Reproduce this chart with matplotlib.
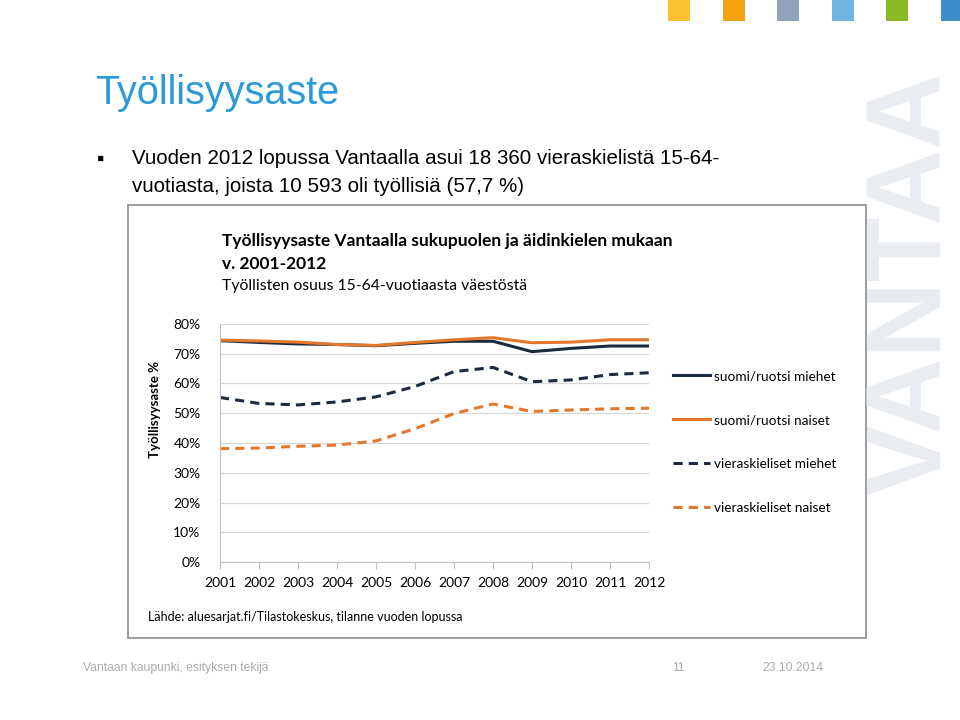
import matplotlib
matplotlib.use("Agg")
import matplotlib.pyplot as plt
from matplotlib.patches import Rectangle

plt.rcParams["font.family"] = ["Liberation Sans", "DejaVu Sans"]

years = [2001, 2002, 2003, 2004, 2005, 2006, 2007, 2008, 2009, 2010, 2011, 2012]
fi_sv_men = [74.4, 73.8, 73.3, 73.1, 72.7, 73.5, 74.2, 74.2, 70.7, 71.8, 72.6, 72.6]
fi_sv_women = [74.6, 74.3, 73.9, 73.1, 72.8, 73.8, 74.7, 75.4, 73.7, 73.9, 74.7, 74.7]
foreign_men = [55.3, 53.3, 52.8, 53.8, 55.5, 59.0, 64.0, 65.4, 60.6, 61.2, 63.0, 63.6]
foreign_women = [38.1, 38.3, 38.9, 39.3, 40.7, 44.8, 49.9, 53.1, 50.6, 51.1, 51.5, 51.7]
series_labels = ["suomi/ruotsi miehet", "suomi/ruotsi naiset",
                 "vieraskieliset miehet", "vieraskieliset naiset"]
y_ticks = [0, 10, 20, 30, 40, 50, 60, 70, 80]

W, H = 960, 720
NAVY = "#1B2A3F"
ORANGE = "#E2782B"
CHART_FONT = ["Lato", "DejaVu Sans"]


def fx(px):
    return px / W


def fy(py):
    return 1 - py / H


fig = plt.figure(figsize=(9.6, 7.2), dpi=100)
fig.patch.set_facecolor("white")

# coloured squares at the top right
squares = ["#FBC12E", "#F4A10F", "#8FA3BD", "#6EB5E3", "#8AB823", "#3D8DCB"]
for i, c in enumerate(squares):
    x0 = 668 + i * 54.5
    fig.patches.append(Rectangle((fx(x0), fy(21)), fx(22), 21 / H, transform=fig.transFigure,
                                 fc=c, ec="none"))

# VANTAA watermark
fig.text(fx(913), fy(283), "VANTAA", rotation=90, ha="center", va="center",
         fontsize=76, fontweight="bold", color="#E9EDF1", family=["Liberation Sans"])

# slide title and bullet
fig.text(fx(95), fy(93), "Työllisyysaste", fontsize=28.5, color="#2C9AD8", va="center")
fig.text(fx(97), fy(159), "\u25aa", fontsize=15, color="black", va="center")
fig.text(fx(132), fy(159), "Vuoden 2012 lopussa Vantaalla asui 18 360 vieraskielistä 15-64-",
         fontsize=14.8, va="center")
fig.text(fx(132), fy(187), "vuotiasta, joista 10 593 oli työllisiä (57,7 %)",
         fontsize=14.8, va="center")

# chart frame
fig.patches.append(Rectangle((fx(128), fy(638)), fx(866 - 128), (638 - 205) / H,
                             transform=fig.transFigure, fc="none", ec="#8C8C8C", lw=1.2))

fig.text(fx(222), fy(241), "Työllisyysaste Vantaalla sukupuolen ja äidinkielen mukaan",
         fontsize=12.5, fontweight="bold", va="center", family=CHART_FONT)
fig.text(fx(222), fy(264), "v. 2001-2012", fontsize=12.5, fontweight="bold", va="center",
         family=CHART_FONT)
fig.text(fx(222), fy(286), "Työllisten osuus 15-64-vuotiaasta väestöstä", fontsize=11.3,
         va="center", family=CHART_FONT)
fig.text(fx(148), fy(617), "Lähde: aluesarjat.fi/Tilastokeskus, tilanne vuoden lopussa",
         fontsize=9, va="center", family=CHART_FONT)
fig.text(fx(155), fy(410), "Työllisyysaste %", rotation=90, ha="center", va="center",
         fontsize=9.5, fontweight="bold", family=CHART_FONT)

ax = fig.add_axes([fx(220), fy(562), fx(649 - 220), (562 - 324) / H])
ax.plot(years, fi_sv_men, color=NAVY, lw=2.2, label=series_labels[0])
ax.plot(years, fi_sv_women, color=ORANGE, lw=2.2, label=series_labels[1])
ax.plot(years, foreign_men, color=NAVY, lw=2.2, ls=(0, (3, 2)), label=series_labels[2])
ax.plot(years, foreign_women, color=ORANGE, lw=2.2, ls=(0, (3, 2)), label=series_labels[3])

ax.set_xlim(years[0], years[-1])
ax.set_ylim(0, 80)
ax.set_yticks(y_ticks)
ax.set_yticklabels([f"{v}%" for v in y_ticks], family=CHART_FONT, fontsize=10)
ax.set_xticks(years)
ax.set_xticklabels([str(y) for y in years], family=CHART_FONT, fontsize=10)
ax.grid(axis="y", color="#D9D9D9", lw=0.9)
ax.set_axisbelow(True)
for s in ["top", "right"]:
    ax.spines[s].set_visible(False)
ax.spines["left"].set_color("#BFBFBF")
ax.spines["bottom"].set_color("#BFBFBF")
ax.tick_params(axis="y", length=0, pad=14)
ax.tick_params(axis="x", length=5, color="#BFBFBF", pad=6)

ax.legend(loc="center left", bbox_to_anchor=(fx(673), fy(442)), bbox_transform=fig.transFigure,
          frameon=False, handlelength=2.7, handletextpad=0.3, labelspacing=2.35,
          borderpad=0, borderaxespad=0, prop={"family": CHART_FONT, "size": 9.8})

# footer
foot = ["Liberation Sans Narrow", "Liberation Sans", "DejaVu Sans"]
fig.text(fx(83), fy(668), "Vantaan kaupunki, esityksen tekijä", fontsize=8.7, color="#ABABAB",
         va="center", family=foot)
fig.text(fx(672), fy(668), "11", fontsize=8.7, color="#ABABAB", va="center", family=foot)
fig.text(fx(762), fy(668), "23.10.2014", fontsize=8.7, color="#ABABAB", va="center", family=foot)

fig.savefig("out.png", dpi=100, facecolor="white")
